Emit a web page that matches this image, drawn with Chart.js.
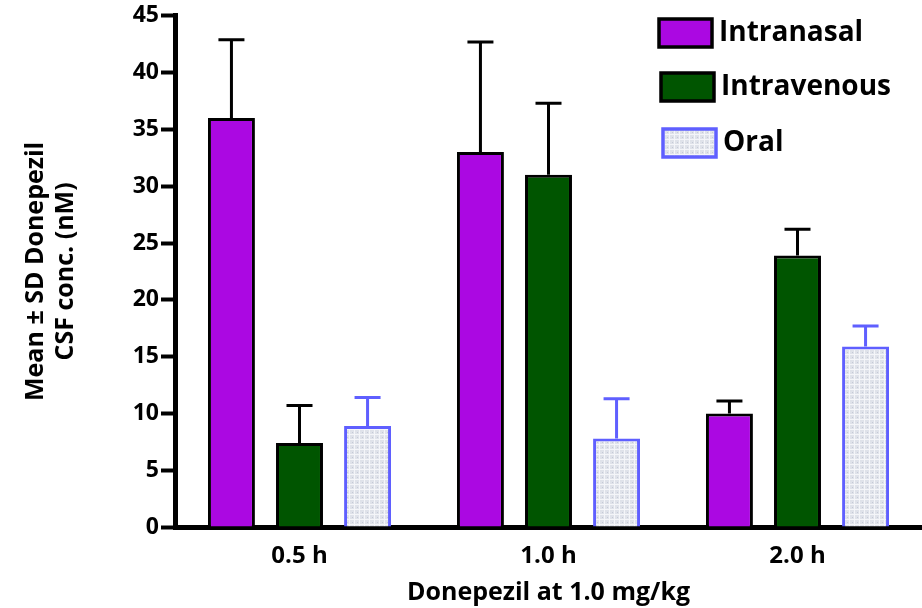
<!DOCTYPE html>
<html><head><meta charset="utf-8">
<script src="https://cdn.jsdelivr.net/npm/chart.js@4"></script>
<style>html,body{margin:0;padding:0;background:#fff}#wrap{width:922px;height:608px}</style>
</head><body><div id="wrap"><canvas id="c" width="922" height="608"></canvas></div>
<script>
const categories = ['0.5 h', '1.0 h', '2.0 h'];
const seriesNames = ['Intranasal', 'Intravenous', 'Oral'];
const intranasal = [36, 33, 10];
const intranasalSD = [6.9, 9.7, 1.1];
const intravenous = [7.4, 31, 23.9];
const intravenousSD = [3.3, 6.3, 2.3];
const oral = [8.9, 7.8, 15.9];
const oralSD = [2.5, 3.5, 1.8];
const yTicks = [0, 5, 10, 15, 20, 25, 30, 35, 40, 45];
const xTitle = 'Donepezil at 1.0 mg/kg';
const yTitle = ['Mean \u00B1 SD Donepezil', 'CSF conc. (nM)'];

const FONT = '"Open Sans", Lato, sans-serif';

function makePattern(){
  const p = document.createElement('canvas');
  p.width = 5; p.height = 5;
  const g = p.getContext('2d');
  g.fillStyle = '#dfe2ea'; g.fillRect(0,0,5,5);
  g.fillStyle = '#f4f5f9'; g.fillRect(0,4,5,1); g.fillRect(4,0,1,5);
  g.fillStyle = '#c5c9d6'; g.fillRect(2,2,1,1);
  return document.getElementById('c').getContext('2d').createPattern(p,'repeat');
}
const oralFill = makePattern();

const sdArrays = [intranasalSD, intravenousSD, oralSD];
const errColors = ['#000000', '#000000', '#5f5fff'];

const errorBars = {
  id: 'errorBars',
  afterDatasetsDraw(chart){
    const ctx = chart.ctx, y = chart.scales.y;
    chart.data.datasets.forEach((ds, di) => {
      const meta = chart.getDatasetMeta(di);
      meta.data.forEach((bar, i) => {
        const top = y.getPixelForValue(ds.data[i] + sdArrays[di][i]);
        const base = y.getPixelForValue(ds.data[i]);
        ctx.save();
        ctx.strokeStyle = errColors[di];
        ctx.lineWidth = 3;
        ctx.beginPath();
        ctx.moveTo(bar.x, base); ctx.lineTo(bar.x, top);
        ctx.moveTo(bar.x - 13, top); ctx.lineTo(bar.x + 13, top);
        ctx.stroke();
        ctx.restore();
      });
    });
  }
};

const customLegend = {
  id: 'customLegend',
  afterDraw(chart){
    const ctx = chart.ctx;
    const rows = [
      {x:659, y:19, w:53, h:28},
      {x:661, y:73, w:53, h:28},
      {x:663, y:129, w:53, h:28}
    ];
    chart.data.datasets.forEach((ds, i) => {
      const r = rows[i];
      ctx.save();
      ctx.fillStyle = ds.backgroundColor;
      ctx.fillRect(r.x, r.y, r.w, r.h);
      ctx.strokeStyle = ds.borderColor;
      ctx.lineWidth = 3.5;
      ctx.strokeRect(r.x, r.y, r.w, r.h);
      ctx.fillStyle = '#000';
      ctx.font = 'bold 28px ' + FONT;
      ctx.textBaseline = 'middle';
      ctx.fillText(ds.label, r.x + r.w + 7, r.y + r.h/2);
      ctx.restore();
    });
  }
};

new Chart(document.getElementById('c'), {
  type: 'bar',
  data: {
    labels: categories,
    datasets: [
      {label: seriesNames[0], data: intranasal, backgroundColor: '#ab08e2', borderColor: '#000', borderWidth: 3},
      {label: seriesNames[1], data: intravenous, backgroundColor: '#005500', borderColor: '#000', borderWidth: 3},
      {label: seriesNames[2], data: oral, backgroundColor: oralFill, borderColor: '#5f5fff', borderWidth: 3}
    ]
  },
  options: {
    responsive: false,
    animation: false,
    devicePixelRatio: 1,
    layout: {padding: {top: 8, right: 0, bottom: 0, left: 0}},
    plugins: {legend: {display: false}, tooltip: {enabled: false}},
    datasets: {bar: {categoryPercentage: 0.82, barPercentage: 0.69}},
    scales: {
      x: {
        afterFit(scale){ scale.height = 81; },
        grid: {display: false, drawTicks: false},
        border: {display: true, color: '#000', width: 5},
        ticks: {color: '#000', font: {family: FONT, size: 24, weight: 'bold'}, padding: 15},
        title: {display: true, text: xTitle, color: '#000', font: {family: FONT, size: 25, weight: 'bold', lineHeight: 1.2}, padding: {top: 7, bottom: 0}}
      },
      y: {
        min: 0, max: 45,
        afterBuildTicks(scale){ scale.ticks = yTicks.map(v => ({value: v})); },
        afterFit(scale){ scale.width = 175; },
        grid: {display: true, drawOnChartArea: false, drawTicks: true, tickLength: 14, tickWidth: 4, tickColor: '#000'},
        border: {display: true, color: '#000', width: 5},
        ticks: {color: '#000', font: {family: FONT, size: 23, weight: 'bold'}, padding: 2},
        title: {display: true, text: yTitle, color: '#000', font: {family: FONT, size: 25, weight: 'bold', lineHeight: 1.2}, padding: {top: 21, bottom: 0}}
      }
    }
  },
  plugins: [errorBars, customLegend]
});
</script>
</body></html>
